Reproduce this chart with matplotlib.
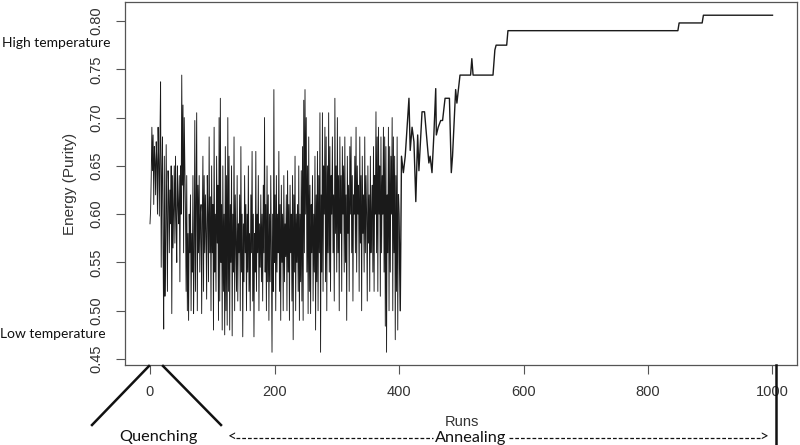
import numpy as np
import matplotlib
matplotlib.use("Agg")
import matplotlib.pyplot as plt
from matplotlib.lines import Line2D

# ---------------- data ----------------
# noisy "high temperature" phase, one value per run (runs 0..399)
noisy_energy = [
    0.590, 0.605, 0.640, 0.690, 0.645, 0.682, 0.610, 0.670, 0.655, 0.620,
    0.675, 0.655, 0.600, 0.690, 0.655, 0.598, 0.680, 0.737, 0.545, 0.640,
    0.680, 0.560, 0.481, 0.660, 0.515, 0.560, 0.672, 0.600, 0.520, 0.645,
    0.625, 0.560, 0.625, 0.590, 0.650, 0.497, 0.640, 0.565, 0.610, 0.650,
    0.570, 0.660, 0.595, 0.550, 0.650, 0.610, 0.590, 0.640, 0.530, 0.650,
    0.600, 0.744, 0.630, 0.713, 0.560, 0.700, 0.650, 0.600, 0.520, 0.640,
    0.500, 0.580, 0.490, 0.600, 0.560, 0.620, 0.500, 0.580, 0.540, 0.640,
    0.497, 0.560, 0.697, 0.520, 0.610, 0.705, 0.500, 0.630, 0.560, 0.640,
    0.540, 0.600, 0.610, 0.497, 0.590, 0.660, 0.520, 0.640, 0.560, 0.620,
    0.580, 0.512, 0.640, 0.600, 0.530, 0.680, 0.560, 0.618, 0.500, 0.650,
    0.560, 0.610, 0.480, 0.690, 0.540, 0.600, 0.520, 0.660, 0.570, 0.630,
    0.490, 0.700, 0.510, 0.720, 0.550, 0.610, 0.480, 0.650, 0.520, 0.600,
    0.475, 0.670, 0.500, 0.640, 0.485, 0.700, 0.520, 0.660, 0.480, 0.610,
    0.550, 0.650, 0.474, 0.600, 0.540, 0.680, 0.500, 0.620, 0.570, 0.520,
    0.640, 0.510, 0.590, 0.560, 0.620, 0.500, 0.670, 0.540, 0.600, 0.473,
    0.590, 0.530, 0.640, 0.560, 0.610, 0.500, 0.600, 0.540, 0.650, 0.520,
    0.580, 0.500, 0.620, 0.560, 0.665, 0.510, 0.600, 0.473, 0.580, 0.540,
    0.665, 0.520, 0.600, 0.560, 0.640, 0.500, 0.590, 0.545, 0.620, 0.530,
    0.600, 0.510, 0.630, 0.560, 0.700, 0.540, 0.610, 0.500, 0.650, 0.530,
    0.620, 0.490, 0.600, 0.530, 0.640, 0.560, 0.457, 0.600, 0.520, 0.729,
    0.550, 0.620, 0.500, 0.640, 0.540, 0.600, 0.560, 0.665, 0.520, 0.610,
    0.490, 0.630, 0.550, 0.600, 0.500, 0.640, 0.530, 0.590, 0.556, 0.620,
    0.500, 0.645, 0.540, 0.610, 0.490, 0.630, 0.560, 0.600, 0.510, 0.640,
    0.470, 0.620, 0.540, 0.660, 0.500, 0.600, 0.550, 0.610, 0.520, 0.650,
    0.490, 0.600, 0.530, 0.645, 0.510, 0.670, 0.490, 0.718, 0.560, 0.729,
    0.600, 0.700, 0.540, 0.650, 0.497, 0.680, 0.520, 0.630, 0.497, 0.610,
    0.560, 0.640, 0.510, 0.600, 0.540, 0.660, 0.480, 0.620, 0.530, 0.665,
    0.500, 0.640, 0.560, 0.705, 0.457, 0.620, 0.540, 0.705, 0.520, 0.650,
    0.600, 0.690, 0.530, 0.680, 0.500, 0.650, 0.560, 0.705, 0.540, 0.670,
    0.520, 0.640, 0.600, 0.680, 0.560, 0.620, 0.510, 0.720, 0.580, 0.650,
    0.540, 0.700, 0.560, 0.640, 0.500, 0.680, 0.580, 0.640, 0.520, 0.670,
    0.600, 0.650, 0.540, 0.680, 0.550, 0.620, 0.490, 0.660, 0.580, 0.630,
    0.520, 0.670, 0.600, 0.680, 0.560, 0.640, 0.510, 0.620, 0.600, 0.660,
    0.560, 0.690, 0.540, 0.650, 0.600, 0.630, 0.520, 0.680, 0.570, 0.640,
    0.500, 0.660, 0.580, 0.620, 0.540, 0.680, 0.560, 0.640, 0.600, 0.510,
    0.650, 0.570, 0.620, 0.520, 0.660, 0.560, 0.600, 0.630, 0.540, 0.670,
    0.520, 0.640, 0.600, 0.706, 0.560, 0.680, 0.520, 0.690, 0.600, 0.650,
    0.515, 0.680, 0.560, 0.640, 0.600, 0.690, 0.540, 0.680, 0.484, 0.670,
    0.457, 0.620, 0.560, 0.690, 0.500, 0.670, 0.540, 0.660, 0.600, 0.700,
    0.500, 0.680, 0.560, 0.660, 0.470, 0.640, 0.520, 0.680, 0.480, 0.620,
]
noisy_runs = np.arange(len(noisy_energy))

# annealing / cooling phase (run, energy)
anneal_runs = [399, 400, 402, 404, 407, 410, 413, 416, 418, 421, 424, 427, 430, 432,
               437, 441, 444, 448, 450, 453, 456, 459, 460, 463, 467, 470, 474,
               481, 484, 486, 491, 493, 498, 515, 517, 519, 551, 554, 556, 573,
               575, 848, 850, 887, 889, 1000]
anneal_energy = [0.62, 0.60, 0.50, 0.66, 0.643, 0.66, 0.69, 0.72, 0.666, 0.69, 0.675,
                 0.613, 0.682, 0.645, 0.706, 0.706, 0.683, 0.653, 0.66, 0.643,
                 0.682, 0.730, 0.682, 0.69, 0.697, 0.697, 0.72, 0.72, 0.643,
                 0.66, 0.729, 0.715, 0.744, 0.744, 0.761, 0.744, 0.744, 0.770,
                 0.775, 0.775, 0.790, 0.790, 0.798, 0.798, 0.806, 0.806]

x_ticks = [0, 200, 400, 600, 800, 1000]
y_ticks = [0.45, 0.50, 0.55, 0.60, 0.65, 0.70, 0.75, 0.80]

# ---------------- figure ----------------
W, H = 800, 445
fig = plt.figure(figsize=(W / 100, H / 100), dpi=100)
fig.patch.set_facecolor("white")

ax = fig.add_axes([125.1 / W, 1 - 365.2 / H, (797.4 - 125.1) / W, (365.2 - 1.8) / H])
ax.plot(noisy_runs, noisy_energy, color="#1a1a1a", lw=0.65)
ax.plot(anneal_runs, anneal_energy, color="#1a1a1a", lw=1.0)
ax.set_xlim(-40, 1040)
ax.set_ylim(0.4436, 0.8199)

sans = ["Liberation Sans", "DejaVu Sans"]
tick_font = dict(family=sans, size=10.5, color="#333333")
ax.set_xticks(x_ticks)
ax.set_xticklabels([str(v) for v in x_ticks], **tick_font)
ax.set_yticks(y_ticks)
ax.set_yticklabels([f"{v:.2f}" for v in y_ticks], rotation=90, va="center", **tick_font)
ax.tick_params(axis="both", length=6.5, width=0.8, color="#555555", pad=8)
ax.tick_params(axis="y", pad=9)
for s in ax.spines.values():
    s.set_color("#555555")
    s.set_linewidth(0.9)

ax.set_ylabel("Energy (Purity)", fontsize=11, color="#333333", family=sans, va="center")
ax.yaxis.set_label_coords((70 - 125.1) / (797.4 - 125.1), 0.5)
ax.set_xlabel("Runs", fontsize=10.5, color="#333333", family=sans, va="center")
ax.xaxis.set_label_coords((462 - 125.1) / (797.4 - 125.1), -(422 - 365.2) / (365.2 - 1.8))


def fx(px):
    return px / W


def fy(py):
    return 1 - py / H


ann_font = ["Lato", "DejaVu Sans"]
fig.text(fx(56), fy(43), "High temperature", ha="center", va="center",
         fontsize=10, family=ann_font, color="#111111")
fig.text(fx(53), fy(334), "Low temperature", ha="center", va="center",
         fontsize=10, family=ann_font, color="#111111")
fig.text(fx(158), fy(437), "Quenching", ha="center", va="center",
         fontsize=11.7, family=ann_font, color="#111111")
fig.text(fx(471), fy(438), "Annealing", ha="center", va="center",
         fontsize=11.7, family=ann_font, color="#111111")
fig.text(fx(228), fy(437), "<", ha="left", va="center",
         fontsize=11, family=ann_font, color="#111111")
fig.text(fx(768), fy(437), ">", ha="right", va="center",
         fontsize=11, family=ann_font, color="#111111")

# dashed arrow pieces
for x0, x1 in [(236, 433), (509, 760)]:
    fig.add_artist(Line2D([fx(x0), fx(x1)], [fy(438), fy(438)], transform=fig.transFigure,
                          color="#111111", lw=0.9, dashes=(3, 1.6)))

# quenching diagonals and end marker
fig.add_artist(Line2D([fx(149), fx(92)], [fy(366), fy(425)], transform=fig.transFigure,
                      color="#111111", lw=1.8))
fig.add_artist(Line2D([fx(163), fx(221)], [fy(366), fy(425)], transform=fig.transFigure,
                      color="#111111", lw=1.8))
fig.add_artist(Line2D([fx(776), fx(776)], [fy(365), fy(445)], transform=fig.transFigure,
                      color="#111111", lw=1.8))

fig.savefig("out.png", dpi=100, facecolor="white")
